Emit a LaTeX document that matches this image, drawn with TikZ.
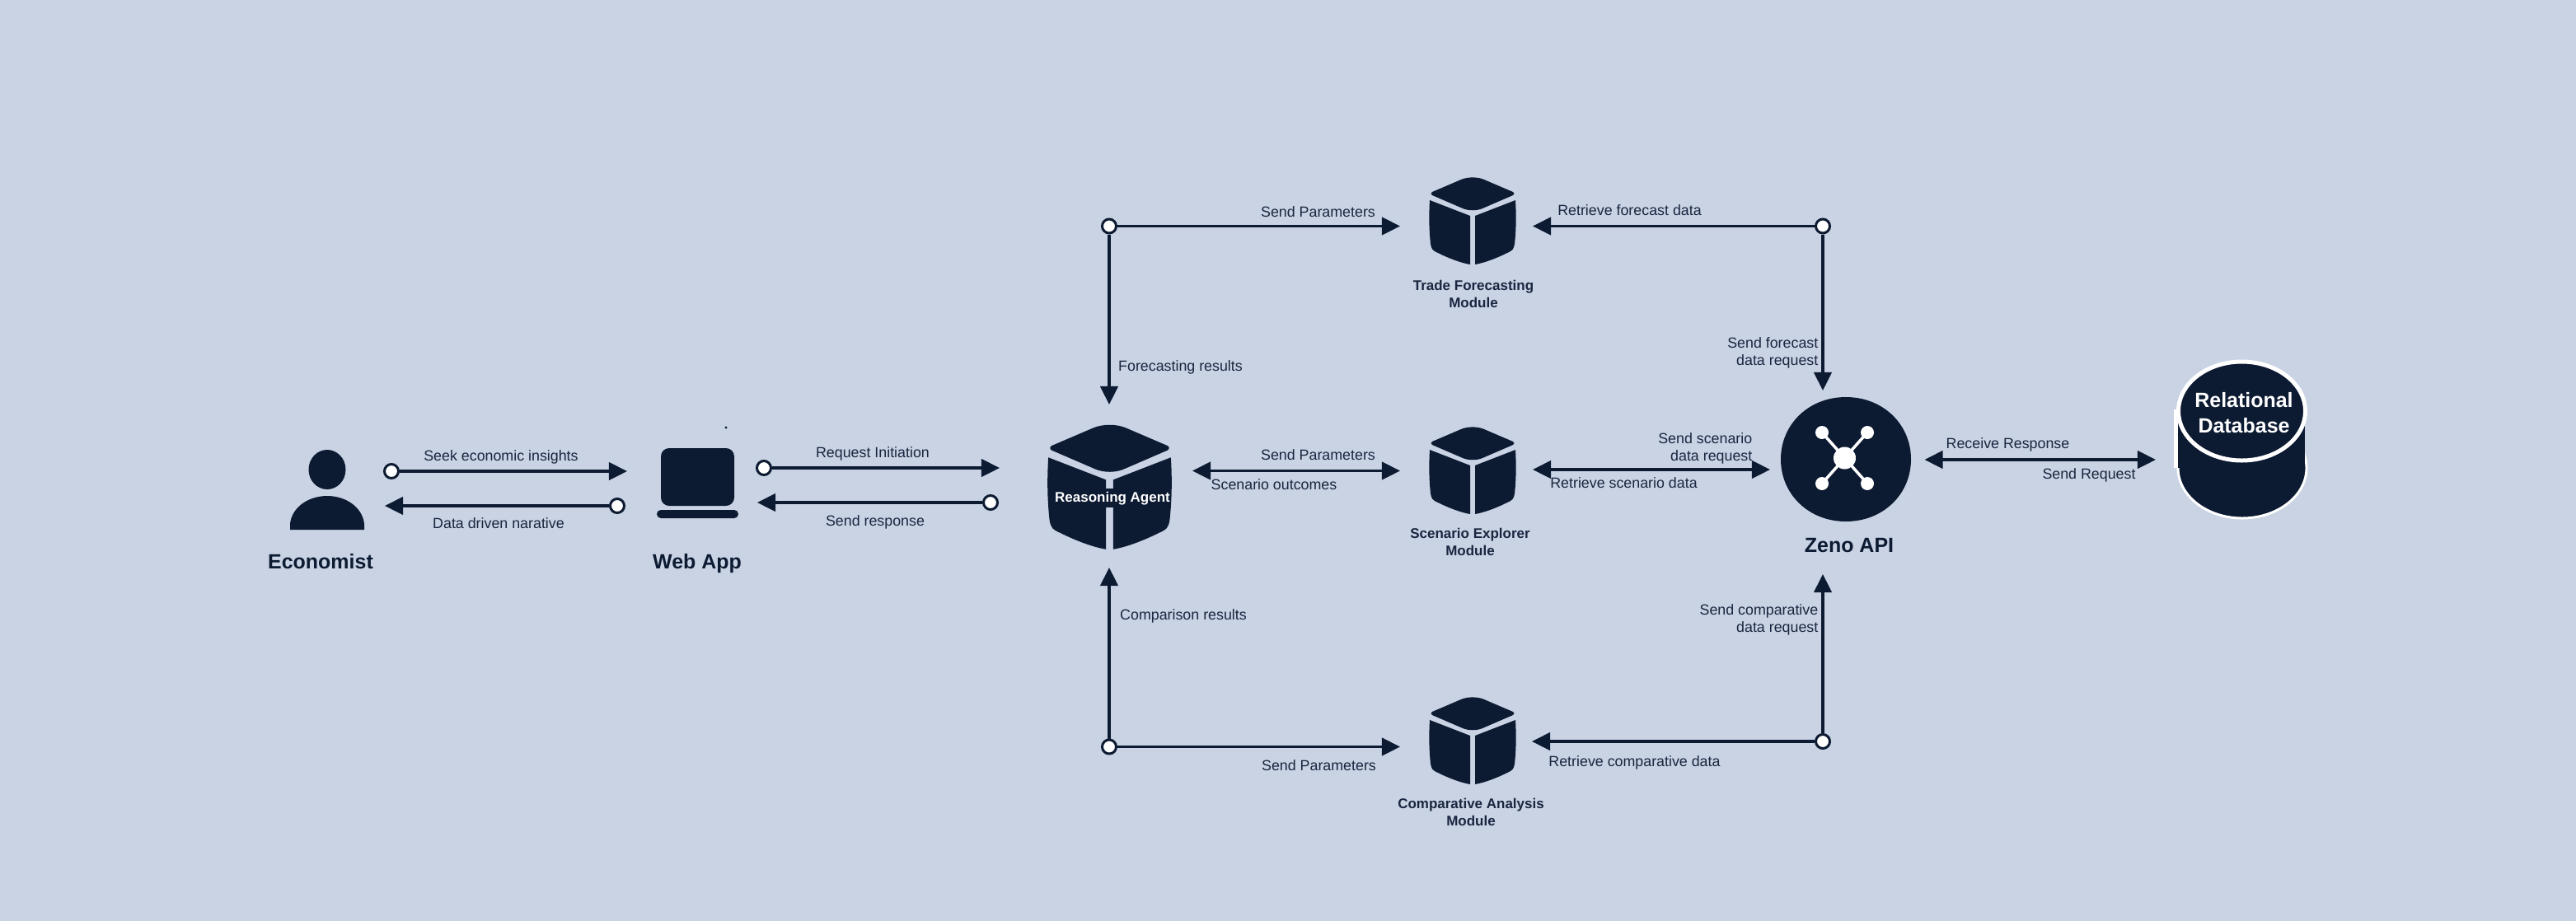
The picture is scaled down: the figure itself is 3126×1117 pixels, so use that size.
\documentclass[tikz,border=0pt]{standalone}
\usepackage{fontspec}
\setmainfont{Liberation Sans}
\usetikzlibrary{arrows.meta}
\definecolor{bgc}{HTML}{C9D3E4}
\definecolor{ink}{HTML}{0C1A32}
\definecolor{txt}{HTML}{1A2640}
\newcommand\lblf{\fontsize{5.07}{5.97}\selectfont}
\newcommand\modf{\fontsize{4.83}{5.97}\selectfont\bfseries}
\newcommand\headf{\fontsize{7.1}{8.8}\selectfont\bfseries}
\newcommand\cubeicon[3]{%
\begin{scope}[shift={(#1,#2)},scale=#3]
 \fill[ink] (-49,-35) -- (-14,-50) .. controls (-6,-53.5) and (6,-53.5) .. (14,-50) -- (49,-35)
   .. controls (51,-34) and (51,-32) .. (49,-31) -- (12,-15) .. controls (5,-12) and (-5,-12) .. (-12,-15) -- (-49,-31)
   .. controls (-51,-32) and (-51,-34) .. cycle;
 \fill[ink] (-52,-25) -- (-3,-6) -- (-3,53) .. controls (-15,51) and (-30,45) .. (-42,39)
   .. controls (-49,36) and (-50,34) .. (-51,28) .. controls (-53,10) and (-53,-8) .. cycle;
 \fill[ink] (52,-25) -- (3,-6) -- (3,53) .. controls (15,51) and (30,45) .. (42,39)
   .. controls (49,36) and (50,34) .. (51,28) .. controls (53,10) and (53,-8) .. cycle;
\end{scope}}
\tikzset{
 x=0.01cm,y=-0.01cm,
 arr/.style={draw=ink,line width=0.9pt,-{Triangle[length=6.3pt,width=6.1pt]}},
 biarr/.style={draw=ink,line width=0.9pt,{Triangle[length=6.3pt,width=6.1pt]}-{Triangle[length=6.3pt,width=6.1pt]}},
 dotn/.style={circle,draw=ink,fill=white,line width=0.85pt,minimum size=0.17cm,inner sep=0pt},
 lbl/.style={inner sep=0pt,text=txt,font=\lblf,anchor=mid},
 lblr/.style={inner sep=0pt,text=txt,font=\lblf,anchor=east,align=right},
 modl/.style={inner sep=0pt,text=txt,font=\modf,anchor=center,align=center},
 headl/.style={inner sep=0pt,text=ink,font=\headf,anchor=mid},
 wht/.style={inner sep=0pt,text=white,font=\headf,align=center},
}
\begin{document}
\begin{tikzpicture}
\useasboundingbox (0,0) rectangle (3126,1117);
\fill[bgc] (-10,-10) rectangle (3136,1127);
% Economist
\fill[ink] (397,570) ellipse [x radius=22.5,y radius=24];
\fill[ink] (352,643) -- (352,636) .. controls (354,616) and (374,602) .. (397,602) .. controls (420,602) and (440,616) .. (442,636) -- (442,643) -- cycle;
\node[headl] (economist) at (389,681) {Economist};
% Web app
\fill[ink,rounded corners=0.1cm] (802,544) rectangle (891,614);
\fill[ink,rounded corners=0.05cm] (797,619) rectangle (896,629);
\fill[ink] (881,519) circle [radius=1.6];
\node[headl] (webapp) at (846,681) {Web App};
% Reasoning agent
\cubeicon{1346.5}{591}{1.43}
\fill[ink] (1341,593) rectangle (1352,616);
\node[inner sep=0pt,text=white,font=\modf] (agent) at (1350,605) {Reasoning Agent};
% Modules
\cubeicon{1787}{268}{1}
\cubeicon{1787}{571}{1}
\cubeicon{1787}{899}{1}
\node[modl] (trade) at (1788,356.5) {Trade Forecasting\\Module};
\node[modl] (scen) at (1784,657.5) {Scenario Explorer\\Module};
\node[modl] (comp) at (1785,985.5) {Comparative Analysis\\Module};
% Zeno API
\fill[ink] (2161,557.5) .. controls (2161,515) and (2195,482) .. (2240,482) .. controls (2285,482) and (2319,515) .. (2319,557.5) .. controls (2319,600) and (2285,633) .. (2240,633) .. controls (2195,633) and (2161,600) .. (2161,557.5) -- cycle;
\draw[white,line width=1pt] (2211,525) -- (2266,587) (2266,525) -- (2211,587);
\fill[white] (2238.5,556) circle [radius=13.5];
\foreach \px/\py in {2211/525,2266/525,2211/587,2266/587} \fill[white] (\px,\py) circle [radius=8];
\node[headl] (zeno) at (2244,661) {Zeno API};
% Database
\fill[ink,draw=white,line width=0.85pt] (2721,568) ellipse [x radius=78,y radius=61];
\fill[ink] (2643,499) rectangle (2797,568);
\fill[white] (2638,497) rectangle (2643,568);
\fill[ink,draw=white,line width=1.42pt] (2720.5,499) ellipse [x radius=77,y radius=60];
\node[wht] (db) at (2723,501) {Relational\\Database};
% Free ends
\coordinate (t1) at (761,572);
\coordinate (t2) at (467,614);
\coordinate (t3) at (1213,568);
\coordinate (t4) at (919,610);
\coordinate (tfa) at (1346,491);
\coordinate (tfm) at (1699,274.5);
\coordinate (tca) at (1346,689);
\coordinate (tcm) at (1699,906.5);
\coordinate (sl) at (1447,571.5);
\coordinate (sr) at (1699,571.5);
\coordinate (rl) at (1860,570);
\coordinate (rr) at (2148,570);
\coordinate (tfr) at (1860,274.5);
\coordinate (tfz) at (2212,474);
\coordinate (tcr) at (1859,900);
\coordinate (tcz) at (2212,697);
\coordinate (zl) at (2335.5,558);
\coordinate (zr) at (2616,558);
% Dots
\node[dotn] (d1) at (475,572) {};
\node[dotn] (d2) at (749,614) {};
\node[dotn] (d3) at (927,568) {};
\node[dotn] (d4) at (1202,610) {};
\node[dotn] (d5) at (1346,274.5) {};
\node[dotn] (d6) at (1346,906.5) {};
\node[dotn] (d7) at (2212,274.5) {};
\node[dotn] (d8) at (2212,900) {};
% Connectors
\draw[arr] (d1) -- (t1);
\draw[arr] (d2) -- (t2);
\draw[arr] (d3) -- (t3);
\draw[arr] (d4) -- (t4);
\draw[arr] (d5) -- (tfa);
\draw[arr] (d5) -- (tfm);
\draw[arr] (d6) -- (tca);
\draw[arr] (d6) -- (tcm);
\draw[arr] (d7) -- (tfr);
\draw[arr] (d7) -- (tfz);
\draw[arr] (d8) -- (tcr);
\draw[arr] (d8) -- (tcz);
\draw[biarr] (sl) -- (sr);
\draw[biarr] (rl) -- (rr);
\draw[biarr] (zl) -- (zr);
% Labels
\node[lbl] (l1) at (608,550) {Seek economic insights};
\node[lbl] (l2) at (605,632) {Data driven narative};
\node[lbl] (l3) at (1059,546) {Request Initiation};
\node[lbl] (l4) at (1062,629) {Send response};
\node[lbl] (l5) at (1599.5,254) {Send Parameters};
\node[lbl] (l6) at (1432.5,441) {Forecasting results};
\node[lbl] (l7) at (1599.5,549) {Send Parameters};
\node[lbl] (l8) at (1546,585) {Scenario outcomes};
\node[lbl] (l9) at (1436,743) {Comparison results};
\node[lbl] (l10) at (1600.5,926) {Send Parameters};
\node[lbl] (l11) at (1977.5,252) {Retrieve forecast data};
\node[lbl] (l12) at (1970.5,583) {Retrieve scenario data};
\node[lbl] (l13) at (1983.5,921) {Retrieve comparative data};
\node[lblr] (l14) at (2207,428.5) {Send forecast\\data request};
\node[lblr] (l15) at (2127,544) {Send scenario\\data request};
\node[lblr] (l16) at (2207,752.5) {Send comparative\\data request};
\node[lbl] (l17) at (2436.5,535) {Receive Response};
\node[lbl] (l18) at (2535,572) {Send Request};
\end{tikzpicture}
\end{document}
